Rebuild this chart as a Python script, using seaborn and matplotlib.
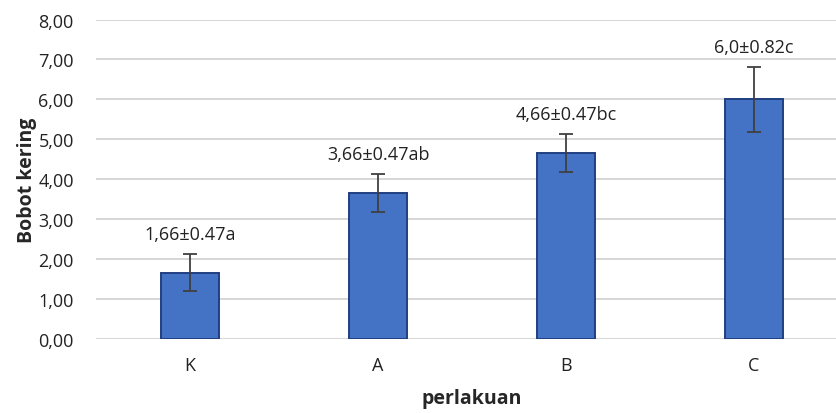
import matplotlib
matplotlib.use("Agg")
import matplotlib.pyplot as plt
import pandas as pd
import seaborn as sns
from matplotlib.ticker import FuncFormatter, MultipleLocator

treatments = ["K", "A", "B", "C"]
means = [1.66, 3.66, 4.66, 6.0]
sds = [0.47, 0.47, 0.47, 0.82]
labels = ["1,66\u00b10.47a", "3,66\u00b10.47ab", "4,66\u00b10.47bc", "6,0\u00b10.82c"]

df = pd.DataFrame({"perlakuan": treatments, "bobot": means, "sd": sds})

sns.set_style("white")
plt.rcParams["font.family"] = ["Open Sans", "DejaVu Sans"]

fig = plt.figure(figsize=(8.37, 4.14), dpi=100)
ax = fig.add_axes([96 / 837, 74 / 414, 752 / 837, 319.5 / 414])

sns.barplot(data=df, x="perlakuan", y="bobot", ax=ax, color="#4472C4",
            width=0.31, edgecolor="#203F80", linewidth=1.4, saturation=1)
ax.errorbar(range(len(df)), df["bobot"], yerr=df["sd"], fmt="none",
            ecolor="#404040", elinewidth=1.3, capsize=5, capthick=1.3, zorder=5)

for i, (m, s, lab) in enumerate(zip(means, sds, labels)):
    ax.text(i, m + s + 0.5, lab, ha="center", va="center", fontsize=13, color="#222222")

ax.set_xlim(-0.5, len(treatments) - 0.5)
ax.set_ylim(0, 8)
ax.yaxis.set_major_locator(MultipleLocator(1))
ax.yaxis.set_major_formatter(FuncFormatter(lambda v, _: f"{v:.2f}".replace(".", ",")))
ax.grid(axis="y", color="#D0D0D0", linewidth=1.2)
ax.set_axisbelow(True)
for side in ["top", "right", "left", "bottom"]:
    ax.spines[side].set_visible(False)
ax.tick_params(axis="both", length=0, labelsize=13, colors="#222222")
ax.tick_params(axis="x", pad=12)
ax.tick_params(axis="y", pad=16)
ax.set_xlabel("perlakuan", fontsize=14, fontweight="bold", labelpad=10)
ax.set_ylabel("Bobot kering", fontsize=14, fontweight="bold", labelpad=1)

fig.savefig("out.png", dpi=100)
